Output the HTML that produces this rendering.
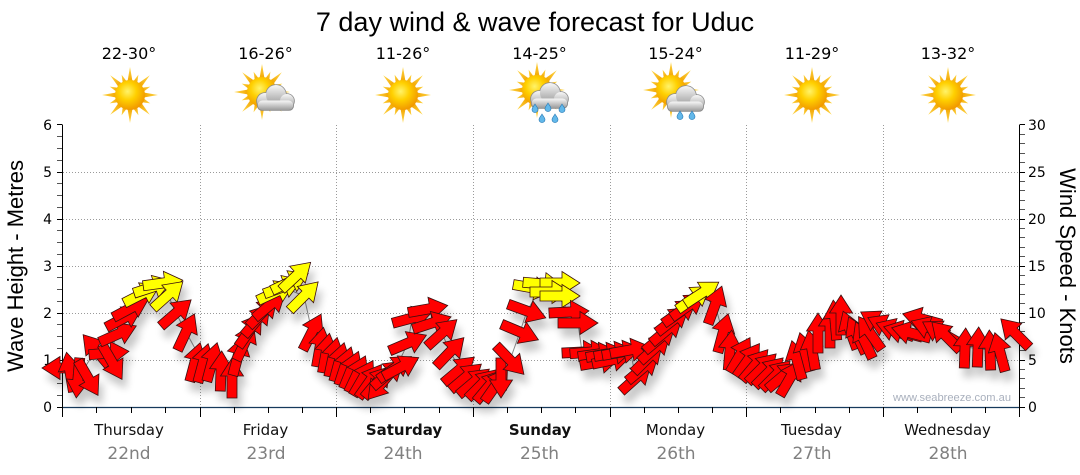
<!DOCTYPE html>
<html><head><meta charset="utf-8"><style>
html,body{margin:0;padding:0;background:#fff;}
svg{display:block;}
</style></head><body>
<svg width="1080" height="475" viewBox="0 0 1080 475" xmlns="http://www.w3.org/2000/svg" xmlns:xlink="http://www.w3.org/1999/xlink">
<defs>
<radialGradient id="sg" cx="42%" cy="38%" r="65%">
<stop offset="0" stop-color="#fff36a"/><stop offset="0.45" stop-color="#ffd000"/><stop offset="1" stop-color="#f09400"/>
</radialGradient>
<linearGradient id="rg" x1="0" y1="0" x2="0" y2="1"><stop offset="0" stop-color="#ffd84a"/><stop offset="1" stop-color="#f2a400"/></linearGradient>
<linearGradient id="cg" x1="0" y1="0" x2="0" y2="1"><stop offset="0" stop-color="#f7f7f7"/><stop offset="1" stop-color="#9c9c9c"/></linearGradient>
<polygon id="lr" points="0,-28 -2.6,-13 2.6,-13"/>
<polygon id="sr" points="0,-22 -2.3,-13 2.3,-13"/>
<g id="sun">
<g fill="url(#rg)">
<use href="#lr"/><use href="#lr" transform="rotate(45)"/><use href="#lr" transform="rotate(90)"/><use href="#lr" transform="rotate(135)"/>
<use href="#lr" transform="rotate(180)"/><use href="#lr" transform="rotate(225)"/><use href="#lr" transform="rotate(270)"/><use href="#lr" transform="rotate(315)"/>
<use href="#sr" transform="rotate(22.5)"/><use href="#sr" transform="rotate(67.5)"/><use href="#sr" transform="rotate(112.5)"/><use href="#sr" transform="rotate(157.5)"/>
<use href="#sr" transform="rotate(202.5)"/><use href="#sr" transform="rotate(247.5)"/><use href="#sr" transform="rotate(292.5)"/><use href="#sr" transform="rotate(337.5)"/>
</g>
<circle r="15" fill="url(#sg)"/>
</g>
<g id="cloud">
<g fill="#8a8a8a">
<circle cx="-10" cy="3" r="8.8"/><circle cx="1" cy="-3" r="10.8"/><circle cx="12" cy="3" r="7.8"/><rect x="-18" y="2" width="37" height="10.8" rx="5"/>
</g>
<g fill="url(#cg)">
<circle cx="-10" cy="3" r="8"/><circle cx="1" cy="-3" r="10"/><circle cx="12" cy="3" r="7"/><rect x="-17.2" y="2.5" width="35.4" height="9.5" rx="4.6"/>
</g>
</g>
<g id="drop"><path d="M0,-4 C1.5,-1.5 3,0 3,1.6 A3,3 0 0 1 -3,1.6 C-3,0 -1.5,-1.5 0,-4Z" fill="#62b8ea" stroke="#2b7bb5" stroke-width="0.6"/></g>
<polygon id="a" points="-20,-5 2,-5 2,-11.5 20,0 2,11.5 2,5 -20,5"/>
<filter id="sh" x="-10%" y="-30%" width="125%" height="170%">
<feGaussianBlur in="SourceAlpha" stdDeviation="4"/>
<feOffset dx="4" dy="9" result="o"/>
<feComponentTransfer><feFuncA type="linear" slope="0.22"/></feComponentTransfer>
<feMerge><feMergeNode/><feMergeNode in="SourceGraphic"/></feMerge>
</filter>
</defs>

<text x="535" y="31" font-family="Liberation Sans, sans-serif" font-size="27" text-anchor="middle" fill="#000">7 day wind &amp; wave forecast for Uduc</text>

<g font-family="DejaVu Sans, sans-serif" font-size="16" text-anchor="middle" fill="#000">
<text x="129" y="59">22-30°</text>
<text x="265.5" y="59">16-26°</text>
<text x="403" y="59">11-26°</text>
<text x="539.5" y="59">14-25°</text>
<text x="675.5" y="59">15-24°</text>
<text x="812" y="59">11-29°</text>
<text x="948" y="59">13-32°</text>
</g>

<use href="#sun" transform="translate(130 95)"/>
<use href="#sun" transform="translate(262 92)"/>
<use href="#cloud" transform="translate(275 98)"/>
<use href="#sun" transform="translate(403 95)"/>
<use href="#sun" transform="translate(537 90)"/>
<use href="#cloud" transform="translate(549 96)"/>
<use href="#drop" transform="translate(535 108)"/><use href="#drop" transform="translate(548 107)"/><use href="#drop" transform="translate(562 108)"/>
<use href="#drop" transform="translate(542 118)"/><use href="#drop" transform="translate(555 118)"/>
<use href="#sun" transform="translate(671 90)"/>
<use href="#cloud" transform="translate(685 99)"/>
<use href="#drop" transform="translate(680 115)"/><use href="#drop" transform="translate(692 115)"/>
<use href="#sun" transform="translate(812 95)"/>
<use href="#sun" transform="translate(948 95)"/>

<g stroke="#9a9a9a" stroke-width="1" stroke-dasharray="1,2" fill="none">
<path d="M63 360.5H1019M63 313.5H1019M63 266.5H1019M63 219.5H1019M63 172.5H1019"/>
<path d="M200.5 125V407M336.5 125V407M473.5 125V407M610.5 125V407M746.5 125V407M883.5 125V407"/>
</g>

<g stroke="#000" stroke-width="1" fill="none">
<path d="M62.5 124.5V407.5"/>
<path d="M1019.5 124.5V407.5"/>
</g>
<path d="M62 407.5H1020" stroke="#163a5c" stroke-width="1.2"/>
<path stroke="#555" stroke-width="1" d="M57 395.5h5M57 383.5h5M57 371.5h5M57 348.5h5M57 336.5h5M57 324.5h5M57 301.5h5M57 289.5h5M57 277.5h5M57 254.5h5M57 242.5h5M57 230.5h5M57 207.5h5M57 195.5h5M57 183.5h5M57 160.5h5M57 148.5h5M57 136.5h5"/>
<path stroke="#000" stroke-width="1" d="M57 407.5h5M57 360.5h5M57 313.5h5M57 266.5h5M57 219.5h5M57 172.5h5M57 124.5h5"/>
<path stroke="#555" stroke-width="1" d="M1020 397.5h5M1020 388.5h5M1020 378.5h5M1020 369.5h5M1020 350.5h5M1020 341.5h5M1020 331.5h5M1020 322.5h5M1020 303.5h5M1020 294.5h5M1020 284.5h5M1020 275.5h5M1020 256.5h5M1020 247.5h5M1020 237.5h5M1020 228.5h5M1020 209.5h5M1020 200.5h5M1020 190.5h5M1020 181.5h5M1020 162.5h5M1020 153.5h5M1020 143.5h5M1020 134.5h5"/>
<path stroke="#000" stroke-width="1" d="M1020 407.5h5M1020 360.5h5M1020 313.5h5M1020 266.5h5M1020 219.5h5M1020 172.5h5M1020 124.5h5"/>
<path stroke="#000" stroke-width="1" d="M62.5 407v10M200.5 407v10M336.5 407v10M473.5 407v10M610.5 407v10M746.5 407v10M883.5 407v10M1019.5 407v10"/>
<path stroke="#000" stroke-width="1" d="M96.5 407v6M131.5 407v6M165.5 407v6M234.5 407v6M268.5 407v6M302.5 407v6M370.5 407v6M404.5 407v6M439.5 407v6M507.5 407v6M541.5 407v6M575.5 407v6M644.5 407v6M678.5 407v6M712.5 407v6M780.5 407v6M815.5 407v6M849.5 407v6M917.5 407v6M951.5 407v6M985.5 407v6"/>

<g font-family="DejaVu Sans, sans-serif" font-size="14" fill="#000">
<g text-anchor="end">
<text x="52" y="412">0</text><text x="52" y="365">1</text><text x="52" y="318">2</text><text x="52" y="271">3</text><text x="52" y="224">4</text><text x="52" y="177">5</text><text x="52" y="130">6</text>
</g>
<g text-anchor="start">
<text x="1028" y="412">0</text><text x="1028" y="365">5</text><text x="1028" y="318">10</text><text x="1028" y="271">15</text><text x="1028" y="224">20</text><text x="1028" y="177">25</text><text x="1028" y="130">30</text>
</g>
</g>

<text transform="translate(23 266) rotate(-90)" font-family="Liberation Sans, sans-serif" font-size="22" text-anchor="middle" fill="#000">Wave Height - Metres</text>
<text transform="translate(1060 266) rotate(90)" font-family="Liberation Sans, sans-serif" font-size="22" text-anchor="middle" fill="#000">Wind Speed - Knots</text>

<g font-family="DejaVu Sans, sans-serif" font-size="15" text-anchor="middle" fill="#111">
<text x="129" y="435">Thursday</text>
<text x="265.5" y="435">Friday</text>
<text x="404" y="435" font-weight="bold">Saturday</text>
<text x="540" y="435" font-weight="bold">Sunday</text>
<text x="675.5" y="435">Monday</text>
<text x="811.5" y="435">Tuesday</text>
<text x="947.5" y="435">Wednesday</text>
</g>
<g font-family="DejaVu Sans, sans-serif" font-size="17" text-anchor="middle" fill="#808080">
<text x="129" y="459">22nd</text>
<text x="266" y="459">23rd</text>
<text x="403" y="459">24th</text>
<text x="539.5" y="459">25th</text>
<text x="676" y="459">26th</text>
<text x="812" y="459">27th</text>
<text x="948" y="459">28th</text>
</g>

<text x="893" y="401" font-family="Liberation Sans, sans-serif" font-size="11" fill="#a9b0bd" textLength="118" lengthAdjust="spacingAndGlyphs">www.seabreeze.com.au</text>

<polyline fill="none" stroke="#8c8c8c" stroke-width="1" points="62,368 78,378 96,350 109,353 118,334 131,308 153,287 168,295 176,313 186,332 203,363 221,371 232,378 245,342 257,320 270,305 283,287 304,296 312,332 326,355 339,364 357,376 377,383 395,370 408,343 412,318 428,309 442,333 450,352 466,378 489,386 501,378 510,360 520,332 527,311 543,284 558,296 569,312 578,323 582,352 606,354 630,350 636,378 660,338 688,306 702,293 715,305 723,333 730,350 755,365 783,376 797,360 818,333 841,317 857,335 878,322 903,332 922,319 946,336 965,347 990,350 1015,333"/>

<g filter="url(#sh)" stroke="#3a1010" stroke-width="0.8" fill="#ff0000">
<use href="#a" transform="translate(62 368) rotate(180)"/>
<use href="#a" transform="translate(70 372) rotate(-100)"/>
<use href="#a" transform="translate(78 378) rotate(95)"/>
<use href="#a" transform="translate(88 378) rotate(60)"/>
<use href="#a" transform="translate(96 350) rotate(-130)"/>
<use href="#a" transform="translate(109 353) rotate(-5)"/>
<use href="#a" transform="translate(112 362) rotate(60)"/>
<use href="#a" transform="translate(118 334) rotate(-24)"/>
<use href="#a" transform="translate(124 318) rotate(-28)"/>
<use href="#a" transform="translate(131 308) rotate(-28)"/>
<use href="#a" fill="#ffff00" transform="translate(142 294) rotate(-27)"/>
<use href="#a" fill="#ffff00" transform="translate(153 287) rotate(-18)"/>
<use href="#a" fill="#ffff00" transform="translate(163 283) rotate(-8)"/>
<use href="#a" fill="#ffff00" transform="translate(168 295) rotate(-42)"/>
<use href="#a" transform="translate(176 313) rotate(-41)"/>
<use href="#a" transform="translate(186 332) rotate(-65)"/>
<use href="#a" transform="translate(195 362) rotate(-75)"/>
<use href="#a" transform="translate(203 363) rotate(-75)"/>
<use href="#a" transform="translate(212 362) rotate(-75)"/>
<use href="#a" transform="translate(221 371) rotate(-88)"/>
<use href="#a" transform="translate(232 378) rotate(-90)"/>
<use href="#a" transform="translate(238 356) rotate(-75)"/>
<use href="#a" transform="translate(245 342) rotate(-65)"/>
<use href="#a" transform="translate(250 330) rotate(-55)"/>
<use href="#a" transform="translate(257 320) rotate(-50)"/>
<use href="#a" transform="translate(263 312) rotate(-45)"/>
<use href="#a" transform="translate(270 305) rotate(-40)"/>
<use href="#a" fill="#ffff00" transform="translate(276 292) rotate(-25)"/>
<use href="#a" fill="#ffff00" transform="translate(283 287) rotate(-20)"/>
<use href="#a" fill="#ffff00" transform="translate(290 282) rotate(-25)"/>
<use href="#a" fill="#ffff00" transform="translate(296 276) rotate(-43)"/>
<use href="#a" fill="#ffff00" transform="translate(304 296) rotate(-45)"/>
<use href="#a" transform="translate(312 332) rotate(-63)"/>
<use href="#a" transform="translate(320 347) rotate(-80)"/>
<use href="#a" transform="translate(326 353) rotate(-80)"/>
<use href="#a" transform="translate(333 357) rotate(-78)"/>
<use href="#a" transform="translate(339 362) rotate(-75)"/>
<use href="#a" transform="translate(345 366) rotate(-72)"/>
<use href="#a" transform="translate(351 370) rotate(-68)"/>
<use href="#a" transform="translate(357 374) rotate(-65)"/>
<use href="#a" transform="translate(363 378) rotate(-60)"/>
<use href="#a" transform="translate(370 381) rotate(-55)"/>
<use href="#a" transform="translate(377 382) rotate(-50)"/>
<use href="#a" transform="translate(381 384) rotate(130)"/>
<use href="#a" transform="translate(388 374) rotate(-40)"/>
<use href="#a" transform="translate(395 368) rotate(-35)"/>
<use href="#a" transform="translate(401 367) rotate(-28)"/>
<use href="#a" transform="translate(408 343) rotate(-23)"/>
<use href="#a" transform="translate(412 318) rotate(-15)"/>
<use href="#a" transform="translate(428 309) rotate(-10)"/>
<use href="#a" transform="translate(432 323) rotate(-18)"/>
<use href="#a" transform="translate(442 333) rotate(-42)"/>
<use href="#a" transform="translate(450 352) rotate(-46)"/>
<use href="#a" transform="translate(459 370) rotate(-40)"/>
<use href="#a" transform="translate(466 377) rotate(-40)"/>
<use href="#a" transform="translate(474 382) rotate(-40)"/>
<use href="#a" transform="translate(482 384) rotate(-45)"/>
<use href="#a" transform="translate(489 386) rotate(-50)"/>
<use href="#a" transform="translate(496 385) rotate(-55)"/>
<use href="#a" transform="translate(501 378) rotate(90)"/>
<use href="#a" transform="translate(510 360) rotate(46)"/>
<use href="#a" transform="translate(520 332) rotate(23)"/>
<use href="#a" transform="translate(527 311) rotate(20)"/>
<use href="#a" fill="#ffff00" transform="translate(533 288) rotate(10)"/>
<use href="#a" fill="#ffff00" transform="translate(543 284) rotate(5)"/>
<use href="#a" fill="#ffff00" transform="translate(560 283) rotate(0)"/>
<use href="#a" fill="#ffff00" transform="translate(550 292) rotate(0)"/>
<use href="#a" fill="#ffff00" transform="translate(560 296) rotate(0)"/>
<use href="#a" transform="translate(569 312) rotate(-3)"/>
<use href="#a" transform="translate(578 323) rotate(0)"/>
<use href="#a" transform="translate(582 352) rotate(-3)"/>
<use href="#a" transform="translate(590 352) rotate(-5)"/>
<use href="#a" transform="translate(598 354) rotate(-8)"/>
<use href="#a" transform="translate(600 362) rotate(-10)"/>
<use href="#a" transform="translate(606 354) rotate(-10)"/>
<use href="#a" transform="translate(612 360) rotate(-12)"/>
<use href="#a" transform="translate(614 353) rotate(-10)"/>
<use href="#a" transform="translate(622 352) rotate(-10)"/>
<use href="#a" transform="translate(630 350) rotate(-10)"/>
<use href="#a" transform="translate(636 378) rotate(-42)"/>
<use href="#a" transform="translate(643 368) rotate(-40)"/>
<use href="#a" transform="translate(648 358) rotate(-45)"/>
<use href="#a" transform="translate(655 348) rotate(-42)"/>
<use href="#a" transform="translate(660 338) rotate(-40)"/>
<use href="#a" transform="translate(667 330) rotate(-40)"/>
<use href="#a" transform="translate(673 320) rotate(-38)"/>
<use href="#a" transform="translate(680 312) rotate(-35)"/>
<use href="#a" transform="translate(688 306) rotate(-35)"/>
<use href="#a" fill="#ffff00" transform="translate(694 298) rotate(-35)"/>
<use href="#a" fill="#ffff00" transform="translate(702 293) rotate(-33)"/>
<use href="#a" transform="translate(715 305) rotate(-70)"/>
<use href="#a" transform="translate(723 333) rotate(-75)"/>
<use href="#a" transform="translate(730 350) rotate(-85)"/>
<use href="#a" transform="translate(740 355) rotate(-60)"/>
<use href="#a" transform="translate(748 360) rotate(-55)"/>
<use href="#a" transform="translate(755 365) rotate(-50)"/>
<use href="#a" transform="translate(762 368) rotate(-45)"/>
<use href="#a" transform="translate(769 372) rotate(-45)"/>
<use href="#a" transform="translate(776 375) rotate(-45)"/>
<use href="#a" transform="translate(783 376) rotate(-40)"/>
<use href="#a" transform="translate(790 378) rotate(-60)"/>
<use href="#a" transform="translate(797 360) rotate(-105)"/>
<use href="#a" transform="translate(805 352) rotate(-105)"/>
<use href="#a" transform="translate(812 350) rotate(-100)"/>
<use href="#a" transform="translate(818 333) rotate(-90)"/>
<use href="#a" transform="translate(830 328) rotate(-90)"/>
<use href="#a" transform="translate(835 320) rotate(-95)"/>
<use href="#a" transform="translate(841 315) rotate(-90)"/>
<use href="#a" transform="translate(850 330) rotate(-110)"/>
<use href="#a" transform="translate(857 335) rotate(-115)"/>
<use href="#a" transform="translate(864 340) rotate(-115)"/>
<use href="#a" transform="translate(870 333) rotate(-125)"/>
<use href="#a" transform="translate(878 322) rotate(-150)"/>
<use href="#a" transform="translate(886 326) rotate(-155)"/>
<use href="#a" transform="translate(895 330) rotate(-160)"/>
<use href="#a" transform="translate(903 332) rotate(-165)"/>
<use href="#a" transform="translate(911 333) rotate(-165)"/>
<use href="#a" transform="translate(922 319) rotate(-165)"/>
<use href="#a" transform="translate(930 328) rotate(-160)"/>
<use href="#a" transform="translate(940 332) rotate(-150)"/>
<use href="#a" transform="translate(946 336) rotate(-135)"/>
<use href="#a" transform="translate(965 348) rotate(-88)"/>
<use href="#a" transform="translate(978 347) rotate(-88)"/>
<use href="#a" transform="translate(990 350) rotate(-92)"/>
<use href="#a" transform="translate(1000 352) rotate(-105)"/>
<use href="#a" transform="translate(1015 333) rotate(-135)"/>
</g>
</svg>
</body></html>
